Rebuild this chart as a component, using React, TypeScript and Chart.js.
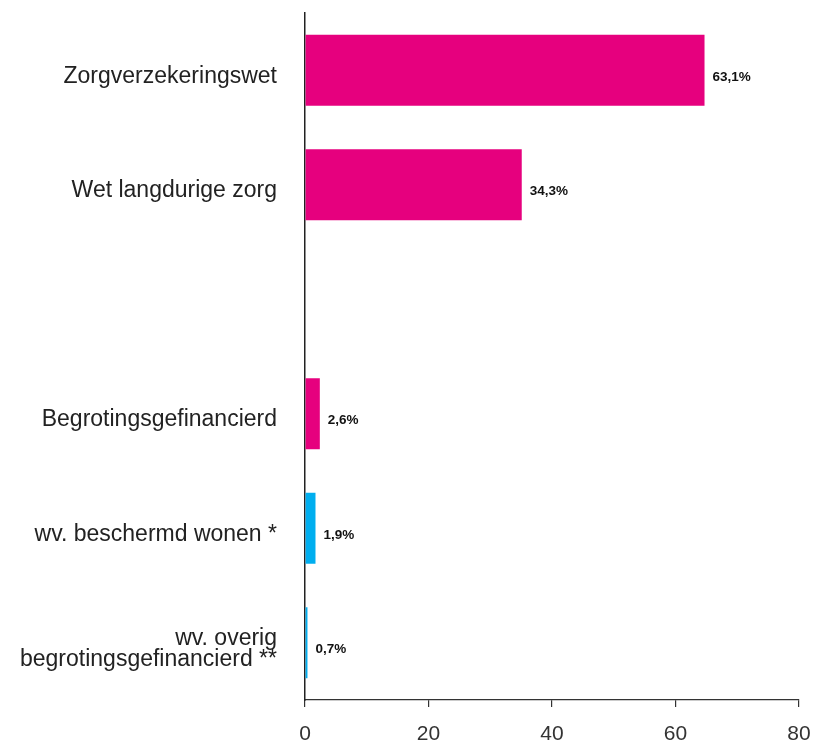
import React, { useEffect, useRef } from "react";
import { Chart, registerables } from "chart.js";

Chart.register(...registerables);

const categories: (string | string[])[] = [
  "Zorgverzekeringswet",
  "Wet langdurige zorg",
  "",
  "Begrotingsgefinancierd",
  "wv. beschermd wonen *",
  ["wv. overig", "begrotingsgefinancierd **"],
];
const values: (number | null)[] = [64.7, 35.1, null, 2.4, 1.7, 0.4];
const valueLabels: string[] = ["63,1%", "34,3%", "", "2,6%", "1,9%", "0,7%"];
const barColors: string[] = ["#E6007E", "#E6007E", "#E6007E", "#E6007E", "#00AEEF", "#00AEEF"];
const xTicks: number[] = [0, 20, 40, 60, 80];

const FONT = "'Liberation Sans', Arial, Helvetica, sans-serif";

const valueLabelPlugin = {
  id: "valueLabels",
  afterDatasetsDraw(chart: any) {
    const ctx = chart.ctx;
    const meta = chart.getDatasetMeta(0);
    ctx.save();
    ctx.font = `bold 13.5px ${FONT}`;
    ctx.fillStyle = "#111111";
    ctx.textAlign = "left";
    ctx.textBaseline = "middle";
    meta.data.forEach((el: any, i: number) => {
      if (values[i] == null || !valueLabels[i]) return;
      ctx.fillText(valueLabels[i], el.x + 8, el.y + 7);
    });
    ctx.restore();
  },
};

export default function App() {
  const ref = useRef<HTMLCanvasElement>(null);
  useEffect(() => {
    if (!ref.current) return;
    const chart = new Chart(ref.current, {
      type: "bar",
      data: {
        labels: categories,
        datasets: [
          {
            data: values,
            backgroundColor: barColors,
            borderWidth: 0,
            categoryPercentage: 1,
            barPercentage: 0.62,
          },
        ],
      },
      options: {
        indexAxis: "y",
        responsive: false,
        animation: false,
        layout: { padding: { top: 13, right: 19, left: 0, bottom: 0 } },
        plugins: { legend: { display: false }, tooltip: { enabled: false } },
        scales: {
          x: {
            min: 0,
            max: 80,
            afterBuildTicks: (scale: any) => {
              scale.ticks = xTicks.map((v) => ({ value: v }));
            },
            afterFit: (scale: any) => {
              scale.height = 42;
              scale.paddingLeft = 0;
              scale.paddingRight = 0;
              scale.paddingTop = 0;
              scale.paddingBottom = 0;
            },
            grid: {
              drawOnChartArea: false,
              drawTicks: true,
              tickLength: 7,
              color: "#333333",
              lineWidth: 1.2,
            },
            border: { display: true, color: "#333333", width: 1.2 },
            ticks: {
              padding: 15,
              color: "#333333",
              font: { family: FONT, size: 21 },
              maxRotation: 0,
            },
          },
          y: {
            afterFit: (scale: any) => {
              scale.width = 305;
              scale.paddingLeft = 0;
              scale.paddingRight = 0;
              scale.paddingTop = 0;
              scale.paddingBottom = 0;
            },
            grid: { display: false, drawTicks: false },
            border: { display: true, color: "#222222", width: 1.5 },
            ticks: {
              padding: 28,
              labelOffset: 6,
              color: "#222222",
              font: { family: FONT, size: 23, lineHeight: 0.92 },
            },
          },
        },
      },
      plugins: [valueLabelPlugin],
    });
    return () => chart.destroy();
  }, []);
  return (
    <div style={{ position: "absolute", left: 0, top: 0, width: 818, height: 742, background: "#ffffff" }}>
      <canvas ref={ref} width={818} height={742} style={{ display: "block" }} />
    </div>
  );
}
